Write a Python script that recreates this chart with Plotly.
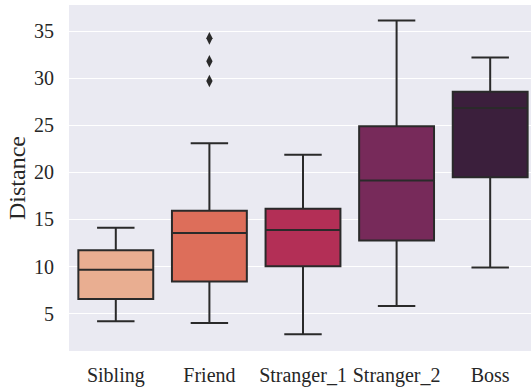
import plotly.graph_objects as go

categories = ["Sibling", "Friend", "Stranger_1", "Stranger_2", "Boss"]
q1 = [6.54, 8.40, 10.04, 12.77, 19.49]
medians = [9.66, 13.55, 13.89, 19.14, 26.84]
q3 = [11.72, 15.92, 16.13, 24.89, 28.56]
lower = [4.20, 3.99, 2.80, 5.81, 9.90]
upper = [14.13, 23.10, 21.87, 36.12, 32.20]
colors = ["#e9ae91", "#dd6e5a", "#b32f56", "#772a5a", "#3b1f3c"]
outlier_cat = ["Friend", "Friend", "Friend"]
outlier_vals = [34.23, 31.80, 29.70]

fig = go.Figure()
for i, c in enumerate(categories):
    fig.add_trace(go.Box(
        x=[c], q1=[q1[i]], median=[medians[i]], q3=[q3[i]],
        lowerfence=[lower[i]], upperfence=[upper[i]],
        fillcolor=colors[i], line=dict(color="#2a2a2a", width=2),
        width=0.8, whiskerwidth=0.5, boxpoints=False, showlegend=False,
        hoverinfo="skip",
    ))
fig.add_trace(go.Scatter(
    x=outlier_cat, y=outlier_vals, mode="markers",
    marker=dict(symbol="diamond-tall", size=9, color="#2a2a2a"),
    showlegend=False, hoverinfo="skip",
))

font = dict(family="Liberation Serif, Times New Roman, serif", color="#262626")
fig.update_layout(
    width=531, height=387,
    margin=dict(l=69, r=0, t=5, b=34),
    paper_bgcolor="white", plot_bgcolor="#eaeaf2",
    boxmode="overlay",
    font=dict(**font, size=20),
    xaxis=dict(
        type="category", categoryorder="array", categoryarray=categories,
        range=[-0.5, 4.436], showgrid=False, zeroline=False,
        ticks="outside", ticklen=6, tickcolor="rgba(0,0,0,0)",
        tickfont=dict(**font, size=20),
    ),
    yaxis=dict(
        range=[1.03, 37.77], tickvals=[5, 10, 15, 20, 25, 30, 35],
        showgrid=True, gridcolor="white", gridwidth=1.2, zeroline=False,
        ticks="outside", ticklen=10, tickcolor="rgba(0,0,0,0)",
        tickfont=dict(**font, size=20),
        title=dict(text="Distance", font=dict(**font, size=24), standoff=1),
    ),
)

fig.write_html("out.html", config={"displayModeBar": False},
               post_script="document.body.style.margin='0';")
